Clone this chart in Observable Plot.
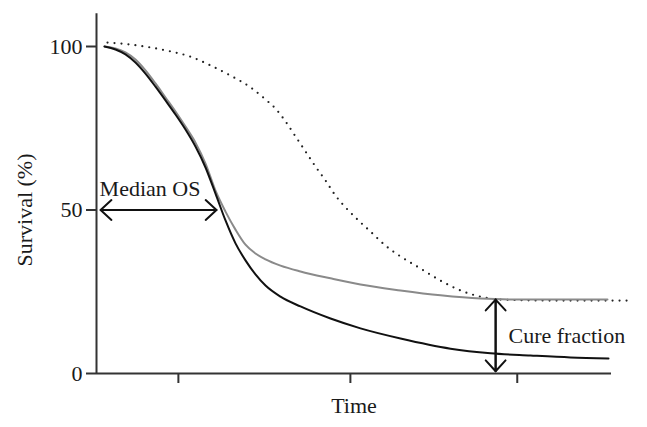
<!DOCTYPE html>
<html>
<head>
<meta charset="utf-8">
<script src="https://cdn.jsdelivr.net/npm/d3@7"></script>
<script src="https://cdn.jsdelivr.net/npm/@observablehq/plot@0.6"></script>
<style>
  html, body { margin: 0; padding: 0; background: #fff; }
</style>
</head>
<body>
<div id="chart"></div>
<script>
// ---- data (time in arbitrary units, survival in %) ----
const blackT = [1.55, 3.69, 5.63, 7.57, 9.51, 11.46, 13.40, 15.34, 17.28, 19.22, 21.17, 23.11, 25.05, 26.99, 28.93, 30.87, 32.82, 35.73, 39.61, 45.44, 51.26, 59.03, 68.74, 76.50, 84.27, 92.04, 99.42];
const blackS = [100.0, 99.1, 97.6, 95.1, 91.7, 87.7, 83.5, 79.2, 74.6, 69.4, 63.0, 55.0, 46.8, 39.8, 34.6, 30.3, 26.9, 23.5, 20.5, 16.8, 13.8, 10.7, 7.6, 6.2, 5.5, 4.9, 4.6];

const grayT = [1.55, 3.69, 5.63, 7.57, 9.51, 11.46, 13.40, 15.34, 17.28, 19.22, 21.17, 23.11, 25.05, 26.99, 28.93, 30.87, 32.82, 35.73, 39.61, 45.44, 51.26, 59.03, 66.80, 74.56, 82.33, 99.22];
const grayS = [100.0, 99.4, 98.2, 96.0, 92.7, 88.7, 84.4, 80.1, 75.5, 70.6, 64.2, 55.9, 49.5, 44.0, 39.4, 36.7, 34.9, 33.0, 31.2, 29.1, 27.2, 25.4, 23.9, 22.9, 22.6, 22.6];

const dotT = [2.14, 6.60, 10.49, 14.37, 18.25, 22.14, 26.02, 29.90, 32.82, 34.76, 36.70, 38.64, 40.58, 42.52, 44.47, 46.41, 48.35, 50.87, 53.20, 56.12, 59.03, 62.91, 66.80, 70.68, 74.56, 78.45, 90.10, 104.27];
const dotS = [101.2, 100.6, 99.7, 98.5, 96.9, 94.2, 91.1, 87.5, 83.8, 81.0, 77.1, 72.5, 67.9, 63.3, 59.0, 54.4, 50.8, 46.8, 43.4, 39.1, 35.8, 32.1, 28.4, 25.4, 23.5, 22.6, 22.3, 22.3];

const yTicks = [0, 50, 100];
const xTicks = [15.9, 49.3, 81.7];
const axisTop = 110;
const timeEnd = 100;

const medianOS = {label: "Median OS", from: 0.8, to: 23.3, level: 50, labelX: 0.6, labelY: 54.4};
const cure = {label: "Cure fraction", at: 77.5, from: 22.6, to: 0.7, labelX: 80.0, labelY: 9.4};

const yLabel = "Survival (%)";
const xLabel = "Time";

const toRows = (T, S) => T.map((t, i) => ({t, s: S[i]}));
const black = toRows(blackT, blackS);
const gray = toRows(grayT, grayS);
const dotted = toRows(dotT, dotS);

const font = "'Liberation Serif', 'DejaVu Serif', serif";
const fs = 22;

const chart = Plot.plot({
  width: 647,
  height: 427,
  marginLeft: 96,
  marginRight: 36,
  marginTop: 46,
  marginBottom: 54,
  style: {fontFamily: font, fontSize: fs + "px", color: "#1a1a1a", background: "#fff"},
  x: {domain: [0, timeEnd]},
  y: {domain: [0, 100]},
  marks: [
    // axis lines
    Plot.ruleX([0], {y1: 0, y2: axisTop, stroke: "#333", strokeWidth: 2}),
    Plot.ruleY([0], {x1: 0, x2: timeEnd, stroke: "#333", strokeWidth: 2}),
    Plot.axisY({ticks: yTicks, tickSize: 10, tickPadding: 4, strokeWidth: 2, stroke: "#333",
      label: yLabel, labelAnchor: "center", labelArrow: false, labelOffset: 80, fontSize: fs}),
    Plot.axisX({ticks: xTicks, tickSize: 10, tickFormat: () => "", strokeWidth: 2, stroke: "#333",
      label: xLabel, labelAnchor: "center", labelArrow: false, labelOffset: 39, fontSize: fs}),
    // curves
    Plot.line(dotted, {x: "t", y: "s", stroke: "#222", strokeWidth: 2.2, strokeDasharray: "0,7", strokeLinecap: "round", curve: "monotone-x"}),
    Plot.line(gray, {x: "t", y: "s", stroke: "#8a8a8a", strokeWidth: 2, curve: "monotone-x"}),
    Plot.line(black, {x: "t", y: "s", stroke: "#111", strokeWidth: 2, curve: "monotone-x"}),
    // Median OS double arrow
    Plot.arrow([
      {x1: medianOS.from, x2: medianOS.to},
      {x1: medianOS.to, x2: medianOS.from}
    ], {x1: "x1", x2: "x2", y1: medianOS.level, y2: medianOS.level, stroke: "#111", strokeWidth: 2, headLength: 11, headAngle: 85}),
    Plot.text([medianOS], {x: "labelX", y: "labelY", text: "label", textAnchor: "start", lineAnchor: "bottom", fontSize: fs, fill: "#1a1a1a"}),
    // Cure fraction double arrow
    Plot.arrow([
      {y1: cure.from, y2: cure.to},
      {y1: cure.to, y2: cure.from}
    ], {x1: cure.at, x2: cure.at, y1: "y1", y2: "y2", stroke: "#111", strokeWidth: 2, headLength: 11, headAngle: 85}),
    Plot.text([cure], {x: "labelX", y: "labelY", text: "label", textAnchor: "start", lineAnchor: "bottom", fontSize: fs, fill: "#1a1a1a"})
  ]
});
document.getElementById("chart").appendChild(chart);
</script>
</body>
</html>
